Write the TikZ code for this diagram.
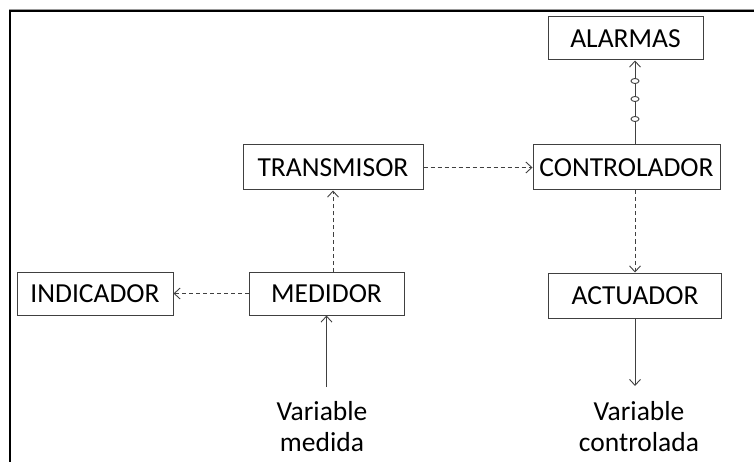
\documentclass[tikz,border=0pt]{standalone}
\usepackage{fontspec}
\setmainfont{Carlito}
\usetikzlibrary{arrows.meta,calc,shapes.geometric}
\begin{document}
\begin{tikzpicture}[x=1pt,y=-1pt,
  box/.style={draw=black!75,line width=1pt,fill=white,inner sep=0pt,
    font=\fontsize{27.5}{32}\selectfont},
  lbl/.style={align=center,inner sep=0pt,font=\fontsize{27.5}{31}\selectfont},
  tip/.style={-{Straight Barb[length=6pt,width=11pt,line width=0.9pt]}},
  link/.style={draw=black!75,line width=0.9pt,tip},
  dlink/.style={link,dash pattern=on 4pt off 3pt},
  ring/.style={draw=black!75,fill=white,line width=0.9pt,ellipse,
    minimum width=8pt,minimum height=5pt,inner sep=0pt}]
\useasboundingbox (0,0) rectangle (754,462);
\fill[white] (0,0) rectangle (754,462);
% frame
\draw[line width=2pt] (10,462) -- (10,11) -- (754,11);
\draw[black!40,line width=0.6pt] (9,9.2) -- (754,9.2);
% blocks
\node[box,minimum width=155pt,minimum height=43pt] (alm) at (625.5,38.5) {ALARMAS};
\node[box,minimum width=187pt,minimum height=45pt] (ctrl) at (626.5,167.5) {CONTROLADOR};
\node[box,minimum width=180pt,minimum height=45pt] (trans) at (333,167.5) {TRANSMISOR};
\node[box,minimum width=156pt,minimum height=43pt] (ind) at (95,293.5) {INDICADOR};
\node[box,minimum width=155pt,minimum height=43pt] (med) at (326.5,293.5) {MEDIDOR};
\node[box,minimum width=173pt,minimum height=45pt] (act) at (635,295.5) {ACTUADOR};
% input and output variables
\node[lbl] (vm) at (322,427) {Variable\\medida};
\node[lbl] (vc) at (639,427) {Variable\\controlada};
\coordinate (vmtop) at (med.south |- 0,387);
\coordinate (vctop) at (act.south |- 0,386);
% connectors
\draw[link] (vmtop) -- (med.south);
\draw[dlink] (med.west) -- (ind.east);
\draw[dlink] (trans.south |- med.north) -- (trans.south);
\draw[dlink] (trans.east) -- (ctrl.west);
\draw[dlink] (act.north |- ctrl.south) -- (act.north);
\draw[link] (act.south) -- (vctop);
\draw[link] (act.north |- ctrl.north) -- (act.north |- alm.south);
\foreach \y/\n in {81/r1,99/r2,119/r3}
  \node[ring] (\n) at (act.north |- 0,\y) {};
\end{tikzpicture}
\end{document}
